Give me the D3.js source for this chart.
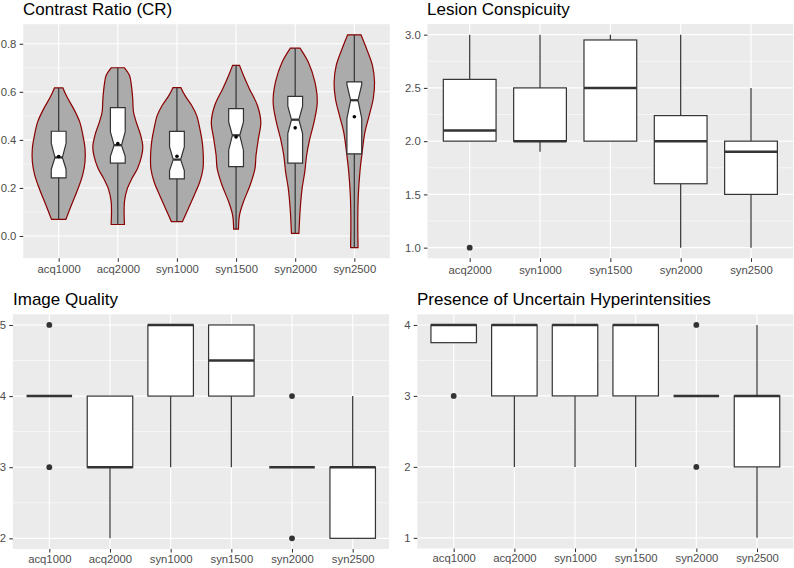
<!DOCTYPE html>
<html><head><meta charset="utf-8">
<script src="https://cdn.jsdelivr.net/npm/d3@7"></script>
<style>
body{margin:0;background:#fff;}
svg{display:block;font-family:"Liberation Sans",Arial,Helvetica,sans-serif;}
</style>
</head><body>
<svg id="chart" width="794" height="568"></svg>
<script>
// ---------------- DATA ----------------
// Panel 1: Contrast Ratio (CR) – violin + notched box
const crCategories = ["acq1000","acq2000","syn1000","syn1500","syn2000","syn2500"];
const crMin     = [0.069, 0.048, 0.060, 0.029, 0.011, -0.048];
const crQ1      = [0.242, 0.303, 0.238, 0.289, 0.303, 0.342];
const crMedian  = [0.327, 0.378, 0.318, 0.419, 0.484, 0.565];
const crQ3      = [0.436, 0.534, 0.435, 0.530, 0.581, 0.641];
const crMax     = [0.616, 0.700, 0.617, 0.710, 0.782, 0.837];
const crNotchLo = [0.278, 0.332, 0.272, 0.357, 0.426, 0.489];
const crNotchHi = [0.385, 0.433, 0.371, 0.475, 0.540, 0.630];
const crMean    = [0.331, 0.385, 0.332, 0.412, 0.450, 0.496];
const crTicks   = [0.0, 0.2, 0.4, 0.6, 0.8];
// violin outlines: sampled values and relative half-widths
const crViolinV = [
  [0.069,0.129,0.198,0.253,0.309,0.364,0.419,0.475,0.530,0.579,0.616],
  [0.048,0.143,0.198,0.239,0.281,0.336,0.371,0.419,0.475,0.516,0.572,0.627,0.668,0.700],
  [0.060,0.115,0.170,0.226,0.281,0.336,0.392,0.447,0.502,0.544,0.585,0.617],
  [0.029,0.087,0.143,0.212,0.280,0.336,0.405,0.475,0.544,0.613,0.668,0.710],
  [0.011,0.115,0.198,0.267,0.336,0.405,0.475,0.558,0.641,0.724,0.782],
  [-0.048,0.060,0.170,0.267,0.336,0.433,0.502,0.571,0.641,0.710,0.779,0.837]
];
const crViolinW = [
  [0.27,0.48,0.73,0.90,0.99,0.99,0.91,0.79,0.56,0.31,0.16],
  [0.25,0.25,0.36,0.53,0.74,0.90,0.94,0.86,0.69,0.59,0.56,0.51,0.44,0.25],
  [0.21,0.43,0.65,0.86,0.98,0.99,0.95,0.86,0.74,0.55,0.30,0.15],
  [0.09,0.13,0.28,0.53,0.71,0.75,0.84,0.93,0.80,0.50,0.28,0.13],
  [0.14,0.19,0.26,0.36,0.43,0.55,0.71,0.83,0.74,0.49,0.18],
  [0.14,0.13,0.15,0.21,0.28,0.40,0.56,0.71,0.76,0.68,0.46,0.25]
];

// Panel 2: Lesion Conspicuity
const lcCategories = ["acq2000","syn1000","syn1500","syn2000","syn2500"];
const lcLower    = [2.0, 1.9, 2.0, 1.0, 1.0];
const lcQ1       = [2.0, 2.0, 2.0, 1.6, 1.5];
const lcMedian   = [2.1, 2.0, 2.5, 2.0, 1.9];
const lcQ3       = [2.58, 2.5, 2.95, 2.24, 2.0];
const lcUpper    = [3.0, 3.0, 3.0, 3.0, 2.5];
const lcOutliers = [[1.0], [], [], [], []];
const lcTicks    = [1.0, 1.5, 2.0, 2.5, 3.0];

// Panel 3: Image Quality
const iqCategories = ["acq1000","acq2000","syn1000","syn1500","syn2000","syn2500"];
const iqLower    = [4, 2, 3, 3, 3, 2];
const iqQ1       = [4, 3, 4, 4, 3, 2];
const iqMedian   = [4, 3, 5, 4.5, 3, 3];
const iqQ3       = [4, 4, 5, 5, 3, 3];
const iqUpper    = [4, 4, 5, 5, 3, 4];
const iqOutliers = [[5, 3], [], [], [], [4, 2], []];
const iqTicks    = [2, 3, 4, 5];

// Panel 4: Presence of Uncertain Hyperintensities
const puCategories = ["acq1000","acq2000","syn1000","syn1500","syn2000","syn2500"];
const puLower    = [3.75, 2, 2, 2, 3, 1];
const puQ1       = [3.75, 3, 3, 3, 3, 2];
const puMedian   = [4, 4, 4, 4, 3, 3];
const puQ3       = [4, 4, 4, 4, 3, 3];
const puUpper    = [4, 4, 4, 4, 3, 4];
const puOutliers = [[3], [], [], [], [4, 2], []];
const puTicks    = [1, 2, 3, 4];

// ---------------- DRAWING ----------------
const svg = d3.select("#chart");
const BOX_STROKE = "#333333";

function expandDomain(vals) {
  const lo = d3.min(vals), hi = d3.max(vals), pad = (hi - lo) * 0.05;
  return [lo - pad, hi + pad];
}

function makePanel(o) {
  const x = d3.scalePoint().domain(o.cats).range([o.left, o.right]).padding(0.6);
  const y = d3.scaleLinear().domain(o.yDomain).range([o.bottom, o.top]);
  const g = svg.append("g");
  g.append("rect").attr("x", o.left).attr("y", o.top)
    .attr("width", o.right - o.left).attr("height", o.bottom - o.top)
    .attr("fill", "#EBEBEB");
  // minor gridlines
  const minors = [];
  const step = o.ticks[1] - o.ticks[0];
  const first = o.ticks[0] - step;
  for (let k = 0; k < o.ticks.length + 1; k++) {
    const m = first + step * k + step / 2;
    if (m > o.yDomain[0] && m < o.yDomain[1]) minors.push(m);
  }
  g.selectAll(".minor").data(minors).enter().append("line")
    .attr("x1", o.left).attr("x2", o.right)
    .attr("y1", d => y(d)).attr("y2", d => y(d))
    .attr("stroke", "#fff").attr("stroke-width", 0.55);
  g.selectAll(".major").data(o.ticks).enter().append("line")
    .attr("x1", o.left).attr("x2", o.right)
    .attr("y1", d => y(d)).attr("y2", d => y(d))
    .attr("stroke", "#fff").attr("stroke-width", 1.1);
  g.selectAll(".vgrid").data(o.cats).enter().append("line")
    .attr("x1", d => x(d)).attr("x2", d => x(d))
    .attr("y1", o.top).attr("y2", o.bottom)
    .attr("stroke", "#fff").attr("stroke-width", 1.1);

  // axes
  const ya = g.append("g").attr("transform", `translate(${o.left},0)`)
    .call(d3.axisLeft(y).tickValues(o.ticks).tickFormat(o.fmt).tickSize(3.6).tickPadding(3.2));
  ya.select(".domain").remove();
  ya.selectAll("line").attr("stroke", "#333").attr("stroke-width", 1.05);
  ya.selectAll("text").attr("fill", "#4D4D4D").style("font-size", "11.3px")
    .style("font-family", '"Liberation Sans",Arial,sans-serif');
  const xa = g.append("g").attr("transform", `translate(0,${o.bottom})`)
    .call(d3.axisBottom(x).tickSize(3.6).tickPadding(3));
  xa.select(".domain").remove();
  xa.selectAll("line").attr("stroke", "#333").attr("stroke-width", 1.05);
  xa.selectAll("text").attr("fill", "#4D4D4D").style("font-size", "11.3px")
    .style("font-family", '"Liberation Sans",Arial,sans-serif')
    .attr("dy", null).attr("y", o.xLabelOffset);

  g.append("text").attr("x", o.titleX).attr("y", o.titleY)
    .attr("fill", "#000").style("font-size", "17px").text(o.title);
  return {g, x, y};
}

function drawBoxes(p, cats, lower, q1, med, q3, upper, outliers) {
  const bw = 0.75 * p.x.step();
  cats.forEach((c, i) => {
    const cx = p.x(c), x0 = cx - bw / 2;
    if (upper[i] > q3[i]) p.g.append("line").attr("x1", cx).attr("x2", cx)
      .attr("y1", p.y(q3[i])).attr("y2", p.y(upper[i]))
      .attr("stroke", BOX_STROKE).attr("stroke-width", 1.2);
    if (lower[i] < q1[i]) p.g.append("line").attr("x1", cx).attr("x2", cx)
      .attr("y1", p.y(q1[i])).attr("y2", p.y(lower[i]))
      .attr("stroke", BOX_STROKE).attr("stroke-width", 1.2);
    p.g.append("rect").attr("x", x0).attr("y", p.y(q3[i]))
      .attr("width", bw).attr("height", p.y(q1[i]) - p.y(q3[i]))
      .attr("fill", "#fff").attr("stroke", BOX_STROKE).attr("stroke-width", 1.2);
    p.g.append("line").attr("x1", x0).attr("x2", x0 + bw)
      .attr("y1", p.y(med[i])).attr("y2", p.y(med[i]))
      .attr("stroke", BOX_STROKE).attr("stroke-width", 2.5);
    outliers[i].forEach(v => p.g.append("circle").attr("cx", cx).attr("cy", p.y(v))
      .attr("r", 2.9).attr("fill", BOX_STROKE));
  });
}

// Panel 1
const p1 = makePanel({
  cats: crCategories, left: 23.2, right: 389.8, top: 24.2, bottom: 258.2,
  yDomain: expandDomain(crMin.concat(crMax)), ticks: crTicks, fmt: d3.format(".1f"),
  title: "Contrast Ratio (CR)", titleX: 23, titleY: 15.4, xLabelOffset: 15.3
});
{
  const step = p1.x.step(), hw = 0.45 * step, bw = 0.25 * step;
  crCategories.forEach((c, i) => {
    const cx = p1.x(c);
    const pts = crViolinV[i].map((v, k) => [v, crViolinW[i][k]]);
    const area = d3.area().curve(d3.curveCatmullRom.alpha(0.5))
      .y(d => p1.y(d[0])).x0(d => cx - d[1] * hw).x1(d => cx + d[1] * hw);
    p1.g.append("path").attr("d", area(pts))
      .attr("fill", "#ABABAB").attr("stroke", "#8B0000").attr("stroke-width", 1.2);
    p1.g.append("line").attr("x1", cx).attr("x2", cx)
      .attr("y1", p1.y(crMin[i])).attr("y2", p1.y(crMax[i]))
      .attr("stroke", BOX_STROKE).attr("stroke-width", 1.2);
    const x0 = cx - bw / 2, x1 = cx + bw / 2, ind = bw / 4;
    const poly = [
      [x0, p1.y(crQ3[i])], [x0, p1.y(crNotchHi[i])], [x0 + ind, p1.y(crMedian[i])],
      [x0, p1.y(crNotchLo[i])], [x0, p1.y(crQ1[i])], [x1, p1.y(crQ1[i])],
      [x1, p1.y(crNotchLo[i])], [x1 - ind, p1.y(crMedian[i])], [x1, p1.y(crNotchHi[i])],
      [x1, p1.y(crQ3[i])]
    ];
    p1.g.append("path").attr("d", d3.line()(poly) + "Z")
      .attr("fill", "#fff").attr("stroke", BOX_STROKE).attr("stroke-width", 1.2);
    p1.g.append("line").attr("x1", x0 + ind).attr("x2", x1 - ind)
      .attr("y1", p1.y(crMedian[i])).attr("y2", p1.y(crMedian[i]))
      .attr("stroke", BOX_STROKE).attr("stroke-width", 2.3);
    p1.g.append("circle").attr("cx", cx).attr("cy", p1.y(crMean[i]))
      .attr("r", 1.8).attr("fill", "#000");
  });
}

// Panel 2
const p2 = makePanel({
  cats: lcCategories, left: 427.5, right: 793.2, top: 24.0, bottom: 258.3,
  yDomain: expandDomain(lcLower.concat(lcUpper, lcOutliers.flat())), ticks: lcTicks,
  fmt: d3.format(".1f"), title: "Lesion Conspicuity", titleX: 427, titleY: 15.4, xLabelOffset: 15.3
});
drawBoxes(p2, lcCategories, lcLower, lcQ1, lcMedian, lcQ3, lcUpper, lcOutliers);

// Panel 3
const p3 = makePanel({
  cats: iqCategories, left: 12.9, right: 389.1, top: 314.3, bottom: 549,
  yDomain: expandDomain(iqLower.concat(iqUpper, iqOutliers.flat())), ticks: iqTicks,
  fmt: d3.format("d"), title: "Image Quality", titleX: 13, titleY: 305, xLabelOffset: 13.5
});
drawBoxes(p3, iqCategories, iqLower, iqQ1, iqMedian, iqQ3, iqUpper, iqOutliers);

// Panel 4
const p4 = makePanel({
  cats: puCategories, left: 417.3, right: 793.4, top: 314.3, bottom: 548.5,
  yDomain: expandDomain(puLower.concat(puUpper, puOutliers.flat())), ticks: puTicks,
  fmt: d3.format("d"), title: "Presence of Uncertain Hyperintensities", titleX: 417, titleY: 305, xLabelOffset: 13.5
});
drawBoxes(p4, puCategories, puLower, puQ1, puMedian, puQ3, puUpper, puOutliers);
</script>
</body></html>
